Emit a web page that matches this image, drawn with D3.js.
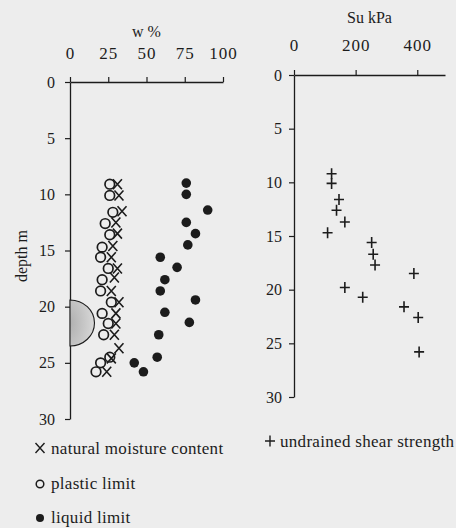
<!DOCTYPE html>
<html><head><meta charset="utf-8">
<script src="https://cdn.jsdelivr.net/npm/d3@7/dist/d3.min.js"></script>
<style>
html,body{margin:0;padding:0;background:#ededed;}
svg{display:block;font-family:"Liberation Serif","DejaVu Serif",serif;}
</style></head>
<body>
<svg id="chart" width="456" height="528"></svg>
<script>
// ---- data ----
const depthTicks = [0, 5, 10, 15, 20, 25, 30];
const wTicks = [0, 25, 50, 75, 100];
const suTicks = [0, 200, 400];

const nmcDepth = [9.1, 10.1, 11.5, 12.5, 13.5, 14.6, 15.6, 16.6, 17.4, 18.6, 19.6, 20.6, 21.5, 22.5, 23.7, 24.6, 25.8];
const nmcValue = [31, 32, 34, 30, 31, 28, 27, 31, 29, 27, 32, 30, 30, 29, 32, 27, 24];

const plDepth = [9.1, 10.1, 11.6, 12.6, 13.6, 14.7, 15.6, 16.6, 17.6, 18.6, 19.6, 20.6, 21.5, 22.5, 24.5, 25.0, 25.8];
const plValue = [26, 26, 28, 23, 26, 21, 20, 25, 21, 20, 27, 21, 25, 22, 26, 20, 17];

const llDepth = [9.0, 10.0, 11.4, 12.5, 13.5, 14.5, 15.6, 16.5, 17.6, 18.6, 19.4, 20.5, 21.4, 22.5, 24.5, 25.0, 25.8];
const llValue = [76, 76, 90, 76, 82, 77, 59, 70, 62, 59, 82, 62, 78, 58, 57, 42, 48];

const suDepth = [9.2, 10.1, 11.6, 12.6, 13.7, 14.7, 15.6, 16.7, 17.7, 18.5, 19.8, 20.7, 21.6, 22.6, 25.8];
const suValue = [122, 122, 146, 138, 165, 109, 252, 257, 263, 389, 165, 223, 357, 403, 406];

// shaded lens at the depth axis (depth top, depth bottom, width in w%)
const lensTop = 19.4, lensBottom = 23.5, lensWidth = 16;

// ---- scales ----
const svg = d3.select("#chart");
const ink = "#1c1c1c";

const xL = d3.scaleLinear().domain([0, 100]).range([70, 223]);
const yL = d3.scaleLinear().domain([0, 30]).range([82, 419]);
const xR = d3.scaleLinear().domain([0, 490]).range([294, 445]);
const yR = d3.scaleLinear().domain([0, 30]).range([75, 397]);

function styleAxis(g, fs, ls) {
  g.attr("font-family", "Liberation Serif, serif");
  g.selectAll("path.domain").attr("stroke", ink).attr("stroke-width", 1.3);
  g.selectAll(".tick line").attr("stroke", ink).attr("stroke-width", 1.2);
  g.selectAll("text").attr("fill", ink).attr("font-size", fs)
    .attr("font-family", "Liberation Serif, serif").attr("letter-spacing", ls);
}

// left panel axes
const gxL = svg.append("g").attr("transform", `translate(0,${yL(0)})`)
  .call(d3.axisTop(xL).tickValues(wTicks).tickSize(5).tickSizeOuter(0).tickPadding(18));
styleAxis(gxL, 17, 1);
const gyL = svg.append("g").attr("transform", `translate(${xL(0)},0)`)
  .call(d3.axisLeft(yL).tickValues(depthTicks).tickSize(5).tickSizeOuter(0).tickPadding(10));
styleAxis(gyL, 16, 0);

// right panel axes
const gxR = svg.append("g").attr("transform", `translate(0,${yR(0)})`)
  .call(d3.axisTop(xR).tickValues(suTicks).tickSize(5).tickSizeOuter(0).tickPadding(19));
styleAxis(gxR, 17, 1);
const gyR = svg.append("g").attr("transform", `translate(${xR(0)},0)`)
  .call(d3.axisLeft(yR).tickValues(depthTicks).tickSize(5).tickSizeOuter(0).tickPadding(7));
styleAxis(gyR, 16, 0);

// axis titles
svg.append("text").attr("x", (xL(0) + xL(100)) / 2).attr("y", 37)
  .attr("text-anchor", "middle").attr("font-size", 16).attr("fill", ink).text("w %");
svg.append("text").attr("x", (xR(0) + xR(490)) / 2).attr("y", 23)
  .attr("text-anchor", "middle").attr("font-size", 16).attr("fill", ink).text("Su kPa");
svg.append("text").attr("transform", `translate(27,${yL(15.5)}) rotate(-90)`)
  .attr("text-anchor", "middle").attr("font-size", 16).attr("fill", ink).text("depth m");

// lens
const defs = svg.append("defs");
const rg = defs.append("radialGradient").attr("id", "lensGrad")
  .attr("cx", "0%").attr("cy", "50%").attr("r", "100%");
rg.append("stop").attr("offset", "0%").attr("stop-color", "#b0b0b0");
rg.append("stop").attr("offset", "100%").attr("stop-color", "#d8d8d8");
const ly0 = yL(lensTop), ly1 = yL(lensBottom), lx0 = xL(0), lrx = xL(lensWidth) - xL(0);
const lry = (ly1 - ly0) / 2;
svg.append("path")
  .attr("d", `M${lx0},${ly0} A${lrx},${lry} 0 0 1 ${lx0},${ly1} Z`)
  .attr("fill", "url(#lensGrad)").attr("stroke", ink).attr("stroke-width", 1.1);

// marks
const crossPath = "M-4.5,-5L4.5,5M-4.5,5L4.5,-5";
const plusPath = "M-5,0L5,0M0,-5.5L0,5.5";

svg.append("g").selectAll("path").data(d3.range(nmcDepth.length)).join("path")
  .attr("transform", i => `translate(${xL(nmcValue[i])},${yL(nmcDepth[i])})`)
  .attr("d", crossPath).attr("stroke", ink).attr("stroke-width", 1.6).attr("fill", "none");

svg.append("g").selectAll("circle").data(d3.range(plDepth.length)).join("circle")
  .attr("cx", i => xL(plValue[i])).attr("cy", i => yL(plDepth[i])).attr("r", 4.8)
  .attr("fill", "none").attr("stroke", ink).attr("stroke-width", 1.7);

svg.append("g").selectAll("circle").data(d3.range(llDepth.length)).join("circle")
  .attr("cx", i => xL(llValue[i])).attr("cy", i => yL(llDepth[i])).attr("r", 4.8)
  .attr("fill", ink);

svg.append("g").selectAll("path").data(d3.range(suDepth.length)).join("path")
  .attr("transform", i => `translate(${xR(suValue[i])},${yR(suDepth[i])})`)
  .attr("d", plusPath).attr("stroke", ink).attr("stroke-width", 1.6).attr("fill", "none");

// legend
const legFs = 17;
const lg = svg.append("g").attr("font-size", legFs).attr("fill", ink).attr("letter-spacing", 0.3);
lg.append("path").attr("transform", "translate(40,448)").attr("d", crossPath)
  .attr("stroke", ink).attr("stroke-width", 1.4).attr("fill", "none");
lg.append("text").attr("x", 51).attr("y", 454).text("natural moisture content");
lg.append("circle").attr("cx", 40).attr("cy", 484).attr("r", 3.8)
  .attr("fill", "none").attr("stroke", ink).attr("stroke-width", 1.5);
lg.append("text").attr("x", 51).attr("y", 489).text("plastic limit");
lg.append("circle").attr("cx", 40).attr("cy", 518).attr("r", 4).attr("fill", ink);
lg.append("text").attr("x", 51).attr("y", 523).text("liquid limit");
lg.append("path").attr("transform", "translate(270,441)").attr("d", plusPath)
  .attr("stroke", ink).attr("stroke-width", 1.4).attr("fill", "none");
lg.append("text").attr("x", 280).attr("y", 447).text("undrained shear strength");
</script>
</body></html>
